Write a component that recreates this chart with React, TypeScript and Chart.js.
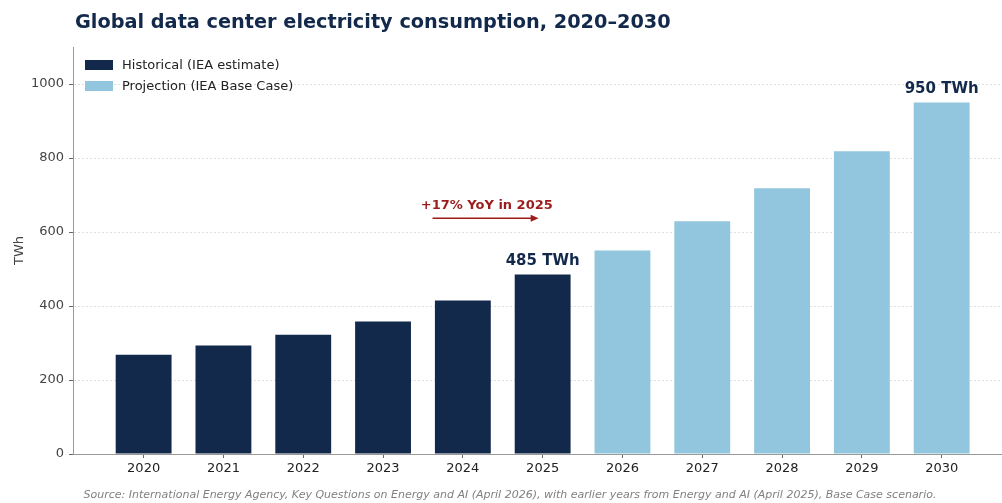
import React, { useEffect, useRef } from 'react';
import { Chart, registerables } from 'chart.js';

Chart.register(...registerables);

// ---- data ----
const years = ['2020', '2021', '2022', '2023', '2024', '2025', '2026', '2027', '2028', '2029', '2030'];
const historical = [268, 293, 322, 358, 415, 485];
const projection = [550, 629, 718, 818, 950];
const yTickValues = [0, 200, 400, 600, 800, 1000];
const barLabelIndex = [5, 10];
const barLabelText = ['485 TWh', '950 TWh'];
const annotationText = '+17% YoY in 2025';
const annotationArrowX = [3.62, 4.95];
const annotationArrowY = 637;
const annotationTextX = 4.3;
const annotationTextY = 661;
const legendLabels = ['Historical (IEA estimate)', 'Projection (IEA Base Case)'];
const titleText = 'Global data center electricity consumption, 2020\u20132030';
const sourceText =
  'Source: International Energy Agency, Key Questions on Energy and AI (April 2026), with earlier years from Energy and AI (April 2025), Base Case scenario.';

const NAVY = '#13294b';
const LIGHT = '#92c5de';
const RED = '#9b1c1c';
const FONT = '"DejaVu Sans", sans-serif';

const overlayPlugin = {
  id: 'overlay',
  afterDraw(chart: any) {
    const { ctx, scales } = chart;
    const xs = scales.x;
    const ys = scales.y;
    ctx.save();
    // title
    ctx.fillStyle = NAVY;
    ctx.font = `bold 19.3px ${FONT}`;
    ctx.textAlign = 'left';
    ctx.textBaseline = 'alphabetic';
    ctx.fillText(titleText, 75, 28);

    // legend
    const colors = [NAVY, LIGHT];
    ctx.font = `13px ${FONT}`;
    ctx.textBaseline = 'middle';
    legendLabels.forEach((lab, i) => {
      const y = 65 + i * 21;
      ctx.fillStyle = colors[i];
      ctx.fillRect(85, y - 5, 28, 10);
      ctx.fillStyle = '#222';
      ctx.fillText(lab, 122, y + 0.5);
    });

    // bar labels
    ctx.font = `bold 15px ${FONT}`;
    ctx.textAlign = 'center';
    ctx.textBaseline = 'alphabetic';
    ctx.fillStyle = NAVY;
    barLabelIndex.forEach((idx, k) => {
      const dsIndex = idx < historical.length ? 0 : 1;
      const local = dsIndex === 0 ? idx : idx - historical.length;
      const el = chart.getDatasetMeta(dsIndex).data[local];
      if (el) ctx.fillText(barLabelText[k], el.x, el.y - 10);
    });

    // annotation
    const ax1 = xs.getPixelForValue(annotationArrowX[0]);
    const ax2 = xs.getPixelForValue(annotationArrowX[1]);
    const ay = ys.getPixelForValue(annotationArrowY);
    ctx.strokeStyle = RED;
    ctx.fillStyle = RED;
    ctx.lineWidth = 1.5;
    ctx.beginPath();
    ctx.moveTo(ax1, ay);
    ctx.lineTo(ax2 - 6, ay);
    ctx.stroke();
    ctx.beginPath();
    ctx.moveTo(ax2, ay);
    ctx.lineTo(ax2 - 8, ay - 3.5);
    ctx.lineTo(ax2 - 8, ay + 3.5);
    ctx.closePath();
    ctx.fill();
    ctx.font = `bold 13px ${FONT}`;
    ctx.textAlign = 'center';
    ctx.fillText(annotationText, xs.getPixelForValue(annotationTextX), ys.getPixelForValue(annotationTextY));

    // source
    ctx.font = `italic 11px ${FONT}`;
    ctx.fillStyle = '#808080';
    ctx.textAlign = 'center';
    ctx.fillText(sourceText, 510, 498);
    ctx.restore();
  },
};

export default function App() {
  const ref = useRef<HTMLCanvasElement | null>(null);
  useEffect(() => {
    document.body.style.margin = '0';
    const canvas = ref.current;
    if (!canvas) return;
    const chart = new Chart(canvas, {
      type: 'bar',
      data: {
        datasets: [
          {
            label: legendLabels[0],
            data: historical.map((v, i) => ({ x: i, y: v })),
            backgroundColor: NAVY,
            borderWidth: 0,
            grouped: false,
            barPercentage: 0.7,
            categoryPercentage: 1,
          } as any,
          {
            label: legendLabels[1],
            data: projection.map((v, i) => ({ x: i + historical.length, y: v })),
            backgroundColor: LIGHT,
            borderWidth: 0,
            grouped: false,
            barPercentage: 0.7,
            categoryPercentage: 1,
          } as any,
        ],
      },
      options: {
        responsive: false,
        animation: false,
        layout: { padding: { top: 47, left: 0, right: 0, bottom: 0 } },
        plugins: {
          legend: { display: false },
          tooltip: { enabled: false },
          title: { display: false },
        },
        scales: {
          x: {
            type: 'linear',
            offset: false,
            min: -0.885,
            max: 10.756,
            afterBuildTicks: (s: any) => {
              s.ticks = years.map((_, i) => ({ value: i }));
            },
            afterFit: (s: any) => {
              s.height = 49;
            },
            ticks: {
              callback: (v: any) => years[v as number] ?? '',
              color: '#222',
              font: { family: FONT, size: 13 },
              padding: 3,
              maxRotation: 0,
              autoSkip: false,
            },
            grid: { offset: false, drawOnChartArea: false, drawTicks: true, tickLength: 4, tickColor: '#666' },
            border: { display: true, color: '#999', width: 1 },
          },
          y: {
            min: 0,
            max: 1100,
            afterBuildTicks: (s: any) => {
              s.ticks = yTickValues.map((v) => ({ value: v }));
            },
            afterFit: (s: any) => {
              s.width = 73;
            },
            ticks: {
              callback: (v: any) => String(v),
              color: '#444',
              font: { family: FONT, size: 13 },
              padding: 5,
            },
            grid: { color: '#e0e0e0', lineWidth: 1, tickLength: 4, tickColor: '#666', tickBorderDash: [] },
            border: { display: true, color: '#999', width: 1, dash: [2, 2] },
            title: {
              display: true,
              text: 'TWh',
              color: '#444',
              font: { family: FONT, size: 13 },
              padding: { top: 12, bottom: 0 },
            },
          },
        },
      } as any,
      plugins: [overlayPlugin],
    });
    return () => chart.destroy();
  }, []);
  return (
    <div style={{ position: 'absolute', left: 0, top: 0, width: 1002, height: 503, background: '#fff' }}>
      <canvas ref={ref} width={1002} height={503} style={{ display: 'block' }} />
    </div>
  );
}
